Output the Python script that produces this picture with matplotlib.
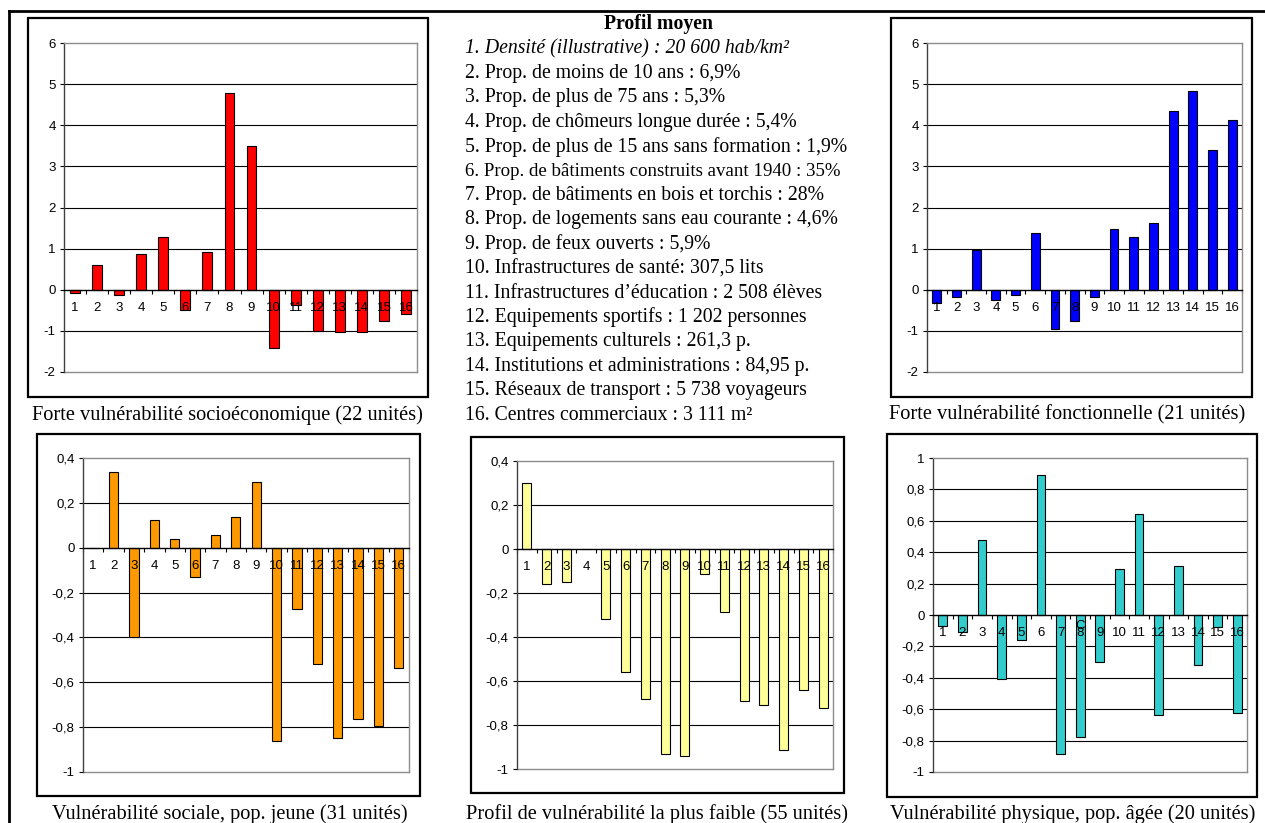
import numpy as np
import matplotlib
matplotlib.use('Agg')
import matplotlib.pyplot as plt
from matplotlib.patches import Rectangle
from matplotlib.lines import Line2D
from matplotlib.ticker import FuncFormatter

plt.rcParams['axes.unicode_minus'] = False

W, H = 1265, 823

categories = list(range(1, 17))

socioeco = [-0.07, 0.61, -0.12, 0.88, 1.28, -0.50, 0.93, 4.79, 3.50, -1.41, -0.36, -1.00, -1.03, -1.03, -0.77, -0.60]
fonctionnel = [-0.32, -0.18, 0.96, -0.24, -0.13, 1.38, -0.95, -0.77, -0.18, 1.48, 1.28, 1.63, 4.35, 4.84, 3.41, 4.12]
sociale_jeune = [0.0, 0.339, -0.397, 0.122, 0.037, -0.13, 0.058, 0.138, 0.295, -0.86, -0.275, -0.517, -0.85, -0.762, -0.797, -0.537]
plus_faible = [0.30, -0.158, -0.152, 0.0, -0.32, -0.56, -0.68, -0.93, -0.94, -0.114, -0.288, -0.69, -0.71, -0.915, -0.642, -0.724]
physique_agee = [-0.072, -0.108, 0.477, -0.408, -0.162, 0.891, -0.885, -0.779, -0.30, 0.291, 0.645, -0.638, 0.309, -0.317, -0.077, -0.623]

captions = [
    'Forte vulnérabilité socioéconomique (22 unités)',
    'Forte vulnérabilité fonctionnelle (21 unités)',
    'Vulnérabilité sociale, pop. jeune (31 unités)',
    'Profil de vulnérabilité la plus faible (55 unités)',
    'Vulnérabilité physique, pop. âgée (20 unités)',
]

profil_title = 'Profil moyen'
profil_lines = [
    '1. Densité (illustrative) : 20 600 hab/km²',
    '2. Prop. de moins de 10 ans : 6,9%',
    '3. Prop. de plus de 75 ans : 5,3%',
    '4. Prop. de chômeurs longue durée : 5,4%',
    '5. Prop. de plus de 15 ans sans formation : 1,9%',
    '6. Prop. de bâtiments construits avant 1940 : 35%',
    '7. Prop. de bâtiments en bois et torchis : 28%',
    '8. Prop. de logements sans eau courante : 4,6%',
    '9. Prop. de feux ouverts : 5,9%',
    '10. Infrastructures de santé: 307,5 lits',
    '11. Infrastructures d\u2019éducation : 2 508 élèves',
    '12. Equipements sportifs : 1 202 personnes',
    '13. Equipements culturels : 261,3 p.',
    '14. Institutions et administrations : 84,95 p.',
    '15. Réseaux de transport : 5 738 voyageurs',
    '16. Centres commerciaux : 3 111 m²',
]

serif = 'Liberation Serif'
sans = 'Liberation Sans'

fig = plt.figure(figsize=(W / 100, H / 100), dpi=100)


def fx(x):
    return x / W


def fy(y):
    return 1 - y / H


def box(l, t, r, b, lw=1.6):
    fig.patches.append(Rectangle((fx(l), fy(b)), fx(r - l), (b - t) / H,
                                 transform=fig.transFigure, fill=False,
                                 edgecolor='black', linewidth=lw))


def comma(v, pos):
    v = round(v, 3)
    if abs(v) < 1e-9:
        return '0'
    return ('%g' % v).replace('.', ',')


def bar_chart(plot_px, box_px, values, color, ylim, step, caption, cap_xy):
    l, t, r, b = plot_px
    box(*box_px)
    ax = fig.add_axes([fx(l), fy(b), fx(r - l), (b - t) / H])
    x = np.array(categories)
    ax.bar(x, values, width=0.45, color=color, edgecolor='black', linewidth=0.8, zorder=2)
    ax.set_xlim(0.5, 16.5)
    ax.set_ylim(*ylim)
    yt = np.arange(ylim[0], ylim[1] + step / 2, step)
    ax.set_yticks(yt)
    ax.yaxis.set_major_formatter(FuncFormatter(comma))
    for v in yt:
        if abs(v) > 1e-9 and v < ylim[1] - 1e-9 and v > ylim[0] + 1e-9:
            ax.axhline(v, color='black', linewidth=0.8, zorder=0.5)
    for s in ['top', 'right']:
        ax.spines[s].set_color('#8c8c8c')
        ax.spines[s].set_linewidth(1.0)
    ax.spines['left'].set_color('#404040')
    ax.spines['left'].set_linewidth(1.0)
    ax.spines['bottom'].set_position(('data', 0))
    ax.spines['bottom'].set_color('black')
    ax.spines['bottom'].set_linewidth(1.0)
    ax.axhline(ylim[0], color='#8c8c8c', linewidth=1.0, zorder=0.5, clip_on=False)
    ax.set_xticks(np.arange(0.5, 16.6, 1.0))
    ax.set_xticklabels([])
    ax.tick_params(axis='x', direction='out', length=3, width=0.8, color='black')
    ax.tick_params(axis='y', direction='out', length=3, width=0.8, color='black',
                   labelsize=9.5, pad=3)
    for lab in ax.get_yticklabels():
        lab.set_fontfamily(sans)
    for c in categories:
        ax.annotate(str(c), (c, 0), xytext=(0, -13), textcoords='offset points',
                    ha='center', va='center', fontsize=9.5, family=sans, zorder=5)
    fig.text(fx(cap_xy[0]), fy(cap_xy[1]), caption, ha='center', va='center',
             fontsize=14.7, family=serif)
    return ax


bar_chart((64, 43, 417, 372), (28, 18, 428, 397), socioeco, '#FF0000',
          (-2, 6), 1, captions[0], (227, 415))
bar_chart((927, 43, 1242, 372), (891, 18, 1252, 397), fonctionnel, '#0000FF',
          (-2, 6), 1, captions[1], (1067, 415))
bar_chart((83, 458, 409, 772), (37, 434, 420, 796), sociale_jeune, '#FF9900',
          (-1, 0.4), 0.2, captions[2], (230, 814))
bar_chart((517, 461, 833, 769), (471, 437, 844, 793), plus_faible, '#FFFF99',
          (-1, 0.4), 0.2, captions[3], (657, 814))
ax5 = bar_chart((933, 458, 1247, 772), (887, 434, 1257, 797), physique_agee, '#33CCCC',
                (-1, 1), 0.2, captions[4], (1073, 814))
# stray glyph present in the original figure
ax5.annotate('C', (8, 0), xytext=(0, -8), textcoords='offset points',
             ha='center', va='center', fontsize=9.5, family=sans, zorder=5)

# text block
fig.text(fx(658), fy(24), profil_title, ha='center', va='center',
         fontsize=14.2, family=serif, fontweight='bold')
for i, line in enumerate(profil_lines):
    y = 49 + i * (415 - 49) / 15
    size = 13.6 if i == 5 else 14.2  # line 6 is condensed in the original
    fig.text(fx(465), fy(y), line, ha='left', va='center', fontsize=size,
             family=serif, style='italic' if i == 0 else 'normal')

# outer frame (top and left)
fig.add_artist(Line2D([fx(9), 1], [fy(11), fy(11)], transform=fig.transFigure,
                      color='black', linewidth=2))
fig.add_artist(Line2D([fx(9), fx(9)], [fy(11), 0], transform=fig.transFigure,
                      color='black', linewidth=2))

fig.savefig('out.png', dpi=100, facecolor='white')
